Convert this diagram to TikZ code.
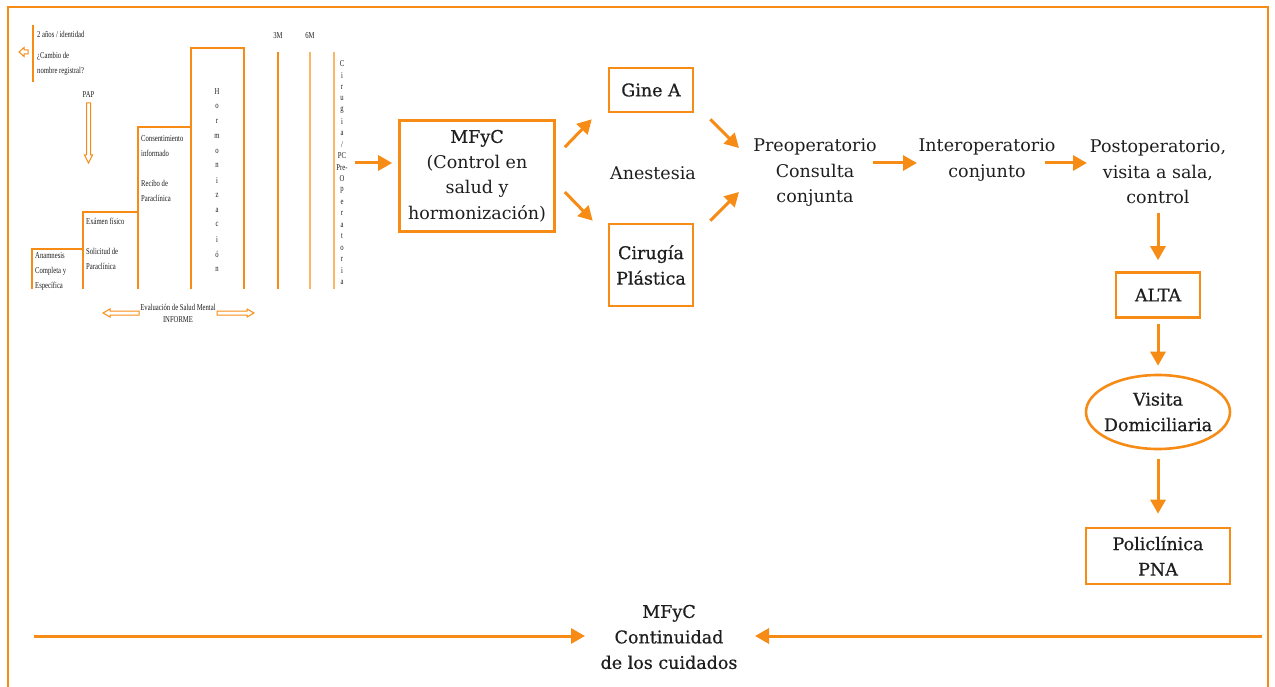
\documentclass[tikz,border=0pt]{standalone}
\usepackage{fontspec}
\setmainfont{DejaVu Serif}
\newfontfamily\media[FakeBold=0.6]{DejaVu Serif}
\newfontfamily\chica[FakeStretch=0.74]{Liberation Serif}
\usetikzlibrary{arrows.meta,shapes.geometric}
\definecolor{naranja}{RGB}{246,140,22}
\definecolor{naranjaclaro}{RGB}{250,182,105}
\definecolor{texto}{RGB}{30,30,30}
\tikzset{
	caja/.style={draw=naranja,line width=2.6pt,align=center,text=texto,font=\media\fontsize{17.5}{25.5}\selectfont,inner sep=0pt},
	etiqueta/.style={align=center,text=texto,font=\fontsize{17.5}{25.5}\selectfont,inner sep=0pt},
	flecha/.style={draw=naranja,line width=3pt,-{Triangle[length=14pt,width=15pt]}},
	chico/.style={align=left,anchor=west,text=texto,font=\chica\fontsize{9}{15}\selectfont,inner sep=0pt},
	letra/.style={text=texto,font=\chica\fontsize{9}{15}\selectfont,inner sep=0pt},
	linea/.style={draw=naranja,line width=1.4pt},
	hueca/.style={draw=naranja,line width=1pt,fill=white},
	marco/.style={draw=naranja,line width=2.8pt},
}
\begin{document}
\begin{tikzpicture}[x=1pt,y=-1pt]
	\useasboundingbox (0,0) rectangle (1275,687);
	\draw[marco] (8,687)--(8,7)--(1268,7)--(1268,687);
	% escalera de la izquierda
	\draw[linea] (33,25)--(33,82);
	\draw[hueca] (19,52)--(24,47.5)--(24,50)--(28,50)--(28,54)--(24,54)--(24,56.5)--cycle;
	\node[chico] (ident) at (37,34) {2 años / identidad};
	\node[chico] (cambio) at (37,64) {¿Cambio de\\nombre registral?};
	\node[letra] (pap) at (88.5,95) {PAP};
	\draw[hueca] (86.5,103)--(90.5,103)--(90.5,155)--(92.5,155)--(88.5,163)--(84.5,155)--(86.5,155)--cycle;
	\draw[linea] (32,289)|-(83,249);
	\draw[linea] (83,289)|-(138,212);
	\draw[linea] (138,289)|-(191,127);
	\draw[linea] (191,289)|-(244,48)--(244,289);
	\draw[linea] (278,52)--(278,289);
	\draw[linea,draw=naranjaclaro] (310,52)--(310,289);
	\draw[linea,draw=naranjaclaro] (334,52)--(334,289);
	\node[chico] (anam) at (35,271) {Anamnesis\\Completa y\\Específica};
	\node[chico] (examen) at (86,221) {Exámen físico};
	\node[chico] (solic) at (86,258.5) {Solicitud de\\Paraclínica};
	\node[chico] (consen) at (141,146.5) {Consentimiento\\informado};
	\node[chico] (recibo) at (141,190.5) {Recibo de\\Paraclínica};
	\foreach \l [count=\i] in {H,o,r,m,o,n,i,z,a,c,i,ó,n}
		\node[letra] (h\i) at (217,{92+(\i-1)*14.75}) {\l};
	\node[letra] (tres) at (278,36) {3M};
	\node[letra] (seis) at (310,36) {6M};
	\foreach \l [count=\i] in {C,i,r,u,g,i,a,/,PC,Pre-,O,p,e,r,a,t,o,r,i,a}
		\node[letra] (c\i) at (342,{64+(\i-1)*11.5}) {\l};
	\node[letra,align=center,font=\chica\fontsize{9}{12}\selectfont] (salud) at (178,313) {Evaluación de Salud Mental\\INFORME};
	\draw[hueca] (103,313)--(110,309)--(110,311)--(139,311)--(139,315)--(110,315)--(110,317)--cycle;
	\draw[hueca] (254,313)--(247,309)--(247,311)--(217,311)--(217,315)--(247,315)--(247,317)--cycle;
	% flujo principal
	\node[caja,font=\fontsize{17.5}{25.5}\selectfont,minimum width=155,minimum height=111] (mfyc) at (477,176) {{\media MFyC}\\(Control en\\salud y\\hormonización)};
	\node[caja,minimum width=84,minimum height=44] (gine) at (651,90) {Gine A};
	\node[caja,minimum width=84,minimum height=82] (cirugia) at (651,265) {Cirugía\\Plástica};
	\node[etiqueta] (anestesia) at (653,173) {Anestesia};
	\node[etiqueta] (preop) at (815,173) {Preoperatorio\\Consulta\\conjunta};
	\node[etiqueta] (interop) at (987,160) {Interoperatorio\\conjunto};
	\node[etiqueta] (postop) at (1158,172) {Postoperatorio,\\visita a sala,\\control};
	\node[caja,minimum width=84,minimum height=45] (alta) at (1158,295) {ALTA};
	\node[caja,ellipse,inner sep=-9pt,minimum width=144,minimum height=74] (visita) at (1158,412) {Visita\\Domiciliaria};
	\node[caja,minimum width=144,minimum height=56] (poli) at (1158,556) {Policlínica\\PNA};
	\node[etiqueta,font=\media\fontsize{17.5}{25.5}\selectfont] (cont) at (669,637) {MFyC\\Continuidad\\de los cuidados};
	\coordinate (cpre) at (355,163);
	\coordinate (cizq) at (34,636);
	\coordinate (cder) at (1262,636);
	\draw[flecha] (cpre)--([xshift=-6pt,yshift=13pt]mfyc.west);
	\draw[flecha] ([xshift=9pt,yshift=-28pt]mfyc.north east)--([xshift=-16pt,yshift=-6pt]gine.south west);
	\draw[flecha] ([xshift=9pt,yshift=-16pt]mfyc.east)--([xshift=-15pt,yshift=2pt]cirugia.north west);
	\draw[flecha] ([xshift=16pt,yshift=-6pt]gine.south east)--([xshift=-76pt,yshift=25pt]preop.center);
	\draw[flecha] ([xshift=16pt,yshift=2pt]cirugia.north east)--([xshift=-76pt,yshift=-19pt]preop.center);
	\draw[flecha] ([xshift=58pt,yshift=10pt]preop.center)--([xshift=-70pt,yshift=-3pt]interop.center);
	\draw[flecha] ([xshift=58pt,yshift=-3pt]interop.center)--([xshift=-71pt,yshift=9pt]postop.center);
	\draw[flecha] ([yshift=-41pt]postop.center)--([yshift=11pt]alta.north);
	\draw[flecha] ([yshift=-5pt]alta.south)--([yshift=8pt]visita.north);
	\draw[flecha] ([yshift=-9pt]visita.south)--([yshift=13pt]poli.north);
	\draw[flecha] (cizq)--([xshift=-84pt,yshift=1pt]cont.center);
	\draw[flecha] (cder)--([xshift=86pt,yshift=1pt]cont.center);
\end{tikzpicture}
\end{document}
